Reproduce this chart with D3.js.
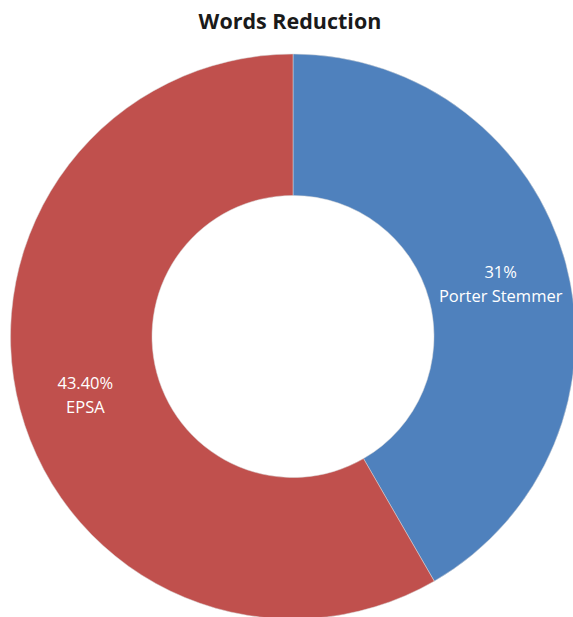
<!DOCTYPE html>
<html>
<head>
<meta charset="utf-8">
<script src="https://cdn.jsdelivr.net/npm/d3@7"></script>
<style>
  html, body { margin: 0; padding: 0; background: #fff; }
  svg { display: block; }
</style>
</head>
<body>
<svg id="chart" width="573" height="617"></svg>
<script>
// Share of words removed by each method
const methods = ["Porter Stemmer", "EPSA"];
const reductions = [31, 43.40];
const valueLabels = ["31%", "43.40%"];
const colors = ["#4F81BD", "#C0504D"];

const svg = d3.select("#chart");
const cx = 293, cy = 336.5, outerR = 282.5, innerR = 141;
const font = "'Open Sans', 'Noto Sans', sans-serif";

svg.append("text")
  .attr("x", 290).attr("y", 29)
  .attr("text-anchor", "middle")
  .attr("font-family", font)
  .attr("font-weight", "bold")
  .attr("font-size", 21.5)
  .attr("fill", "#1a1a1a")
  .text("Words Reduction");

const data = methods.map((m, i) => ({ name: m, value: reductions[i], label: valueLabels[i], color: colors[i] }));

const pie = d3.pie().value(d => d.value).sort(null);
const arc = d3.arc().innerRadius(innerR).outerRadius(outerR);
const labelArc = d3.arc().innerRadius(215).outerRadius(215);

const g = svg.append("g").attr("transform", `translate(${cx},${cy})`);
const arcs = pie(data);

g.selectAll("path")
  .data(arcs)
  .join("path")
  .attr("d", arc)
  .attr("fill", d => d.data.color)
  .attr("stroke", "#d8d8d8")
  .attr("stroke-width", 0.5);

const labels = g.selectAll("g.lbl")
  .data(arcs)
  .join("g")
  .attr("class", "lbl")
  .attr("transform", d => {
    const [x, y] = labelArc.centroid(d);
    return `translate(${x},${y})`;
  });

labels.append("text")
  .attr("text-anchor", "middle")
  .attr("y", -3)
  .attr("font-family", font)
  .attr("font-size", 16.5)
  .attr("fill", "#fff")
  .text(d => d.data.label);

labels.append("text")
  .attr("text-anchor", "middle")
  .attr("y", 21)
  .attr("font-family", font)
  .attr("font-size", 16.5)
  .attr("fill", "#fff")
  .text(d => d.data.name);
</script>
</body>
</html>
